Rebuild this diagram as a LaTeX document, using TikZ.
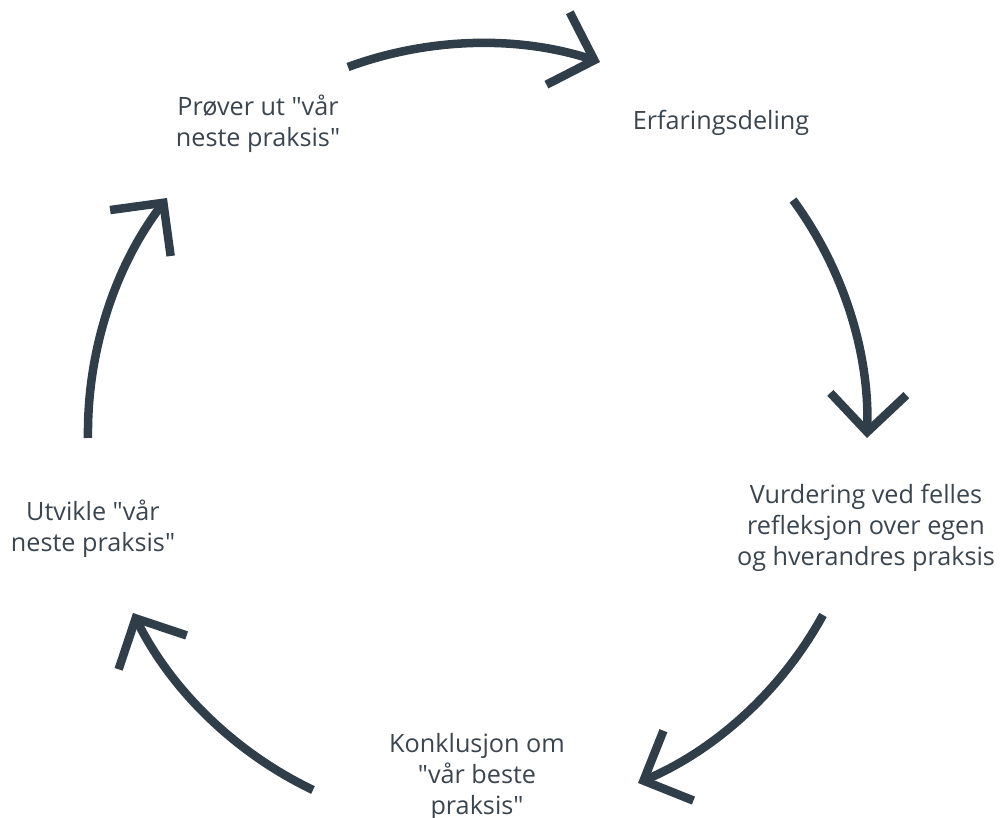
\documentclass[tikz,border=0pt]{standalone}
\usepackage{fontspec}
\setmainfont{Open Sans}[Ligatures=TeXOff]
\usetikzlibrary{arrows.meta}
\definecolor{arrowcol}{HTML}{2F3E48}
\definecolor{textcol}{HTML}{3A4550}
\begin{document}
\begin{tikzpicture}[x=1pt,y=1pt,
  label/.style={align=center,text=textcol,font=\fontsize{25.2}{31}\selectfont,inner sep=0pt},
  cyc/.style={draw=arrowcol,line width=8.5pt,line cap=butt,
    -{Straight Barb[length=38pt 0 0,width=76pt 0 0,sharp]},
    bend left=19,looseness=0.875}]
\useasboundingbox (0,0) rectangle (1000,818);
% labels
\node[label] (prove) at (258,694) {Prøver ut "vår\\neste praksis"};
\node[label] (erf) at (721,695) {Erfaringsdeling};
\node[label] (vurd) at (866,290) {Vurdering ved felles\\refleksjon over egen\\og hverandres praksis};
\node[label] (konk) at (477,41) {Konklusjon om\\"vår beste\\praksis"};
\node[label] (utv) at (93,289) {Utvikle "vår\\neste praksis"};
% arrow end points
\coordinate (a1s) at (348,751);
\coordinate (a1e) at (600,756);
\coordinate (a2s) at (793,618);
\coordinate (a2e) at (867,380);
\coordinate (a3s) at (823,203);
\coordinate (a3e) at (638,35);
\coordinate (a4s) at (313,28);
\coordinate (a4e) at (133,205);
\coordinate (a5s) at (88,380);
\coordinate (a5e) at (167,620);
\draw[cyc] (a1s) to (a1e);
\draw[cyc] (a2s) to (a2e);
\draw[cyc] (a3s) to (a3e);
\draw[cyc] (a4s) to (a4e);
\draw[cyc] (a5s) to (a5e);
\end{tikzpicture}
\end{document}
